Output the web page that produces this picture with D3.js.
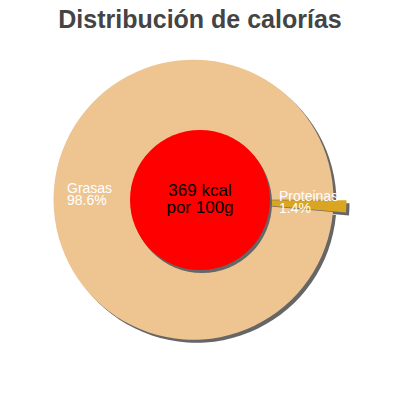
<!DOCTYPE html>
<html><head><meta charset="utf-8">
<script src="https://cdn.jsdelivr.net/npm/d3@7"></script>
<style>body{margin:0;background:#fff}svg{display:block}text{font-family:'Liberation Sans',Arial,sans-serif}</style>
</head><body>
<svg id="c" width="400" height="400"></svg>
<script>
const categories = ["Proteínas", "Grasas"];
const labels = ["Proteinas", "Grasas"];
const values = [1.4, 98.6];
const percentLabels = ["1.4%", "98.6%"];
const colors = ["#daa520", "#eec591"];
const title = "Distribución de calorías";
const centerLines = ["369 kcal", "por 100g"];

const svg = d3.select("#c");
const cx = 200, cy = 200, R = 140, r0 = 70, explode = 6.5, sh = 3;

svg.append("text").attr("x", 200).attr("y", 28).attr("text-anchor", "middle")
  .attr("font-weight", "bold")
  .attr("font-size", 25).attr("fill", "#444").text(title);

const pie = d3.pie().sort(null).startAngle(Math.PI/2).endAngle(Math.PI/2 + 2*Math.PI)(values);
const arc = d3.arc().innerRadius(0).outerRadius(R);
const g = svg.append("g").attr("transform", `translate(${cx},${cy})`);
function off(d){ const a=(d.startAngle+d.endAngle)/2; return [Math.sin(a)*explode, -Math.cos(a)*explode]; }

// shadows
g.selectAll("path.sh").data(pie).join("path").attr("class","sh")
  .attr("d", arc).attr("fill", "#666")
  .attr("transform", d => { const o=off(d); return `translate(${o[0]+sh},${o[1]+sh})`; });
g.selectAll("path.sl").data(pie).join("path").attr("class","sl")
  .attr("d", arc).attr("fill", (d,i) => colors[i])
  .attr("transform", d => { const o=off(d); return `translate(${o[0]},${o[1]})`; });

// center
g.append("circle").attr("cx", sh-1).attr("cy", sh).attr("r", r0).attr("fill", "#666");
g.append("circle").attr("r", r0).attr("fill", "#ff0000");
g.selectAll("text.c").data(centerLines).join("text").attr("class","c")
  .attr("x", 0).attr("y", (d,i) => -4 + i*17).attr("text-anchor", "middle")
  .attr("font-size", 17)
  .attr("fill", "#000").text(d => d);

// labels
const labelPos = [[279, 201], [67, 193]];
pie.forEach((d, i) => {
  const t = svg.append("text").attr("font-size", 14).attr("fill", "#fff");
  t.append("tspan").attr("x", labelPos[i][0]).attr("y", labelPos[i][1]).text(labels[i]);
  t.append("tspan").attr("x", labelPos[i][0]).attr("y", labelPos[i][1] + 12).text(percentLabels[i]);
});
</script>
</body></html>
